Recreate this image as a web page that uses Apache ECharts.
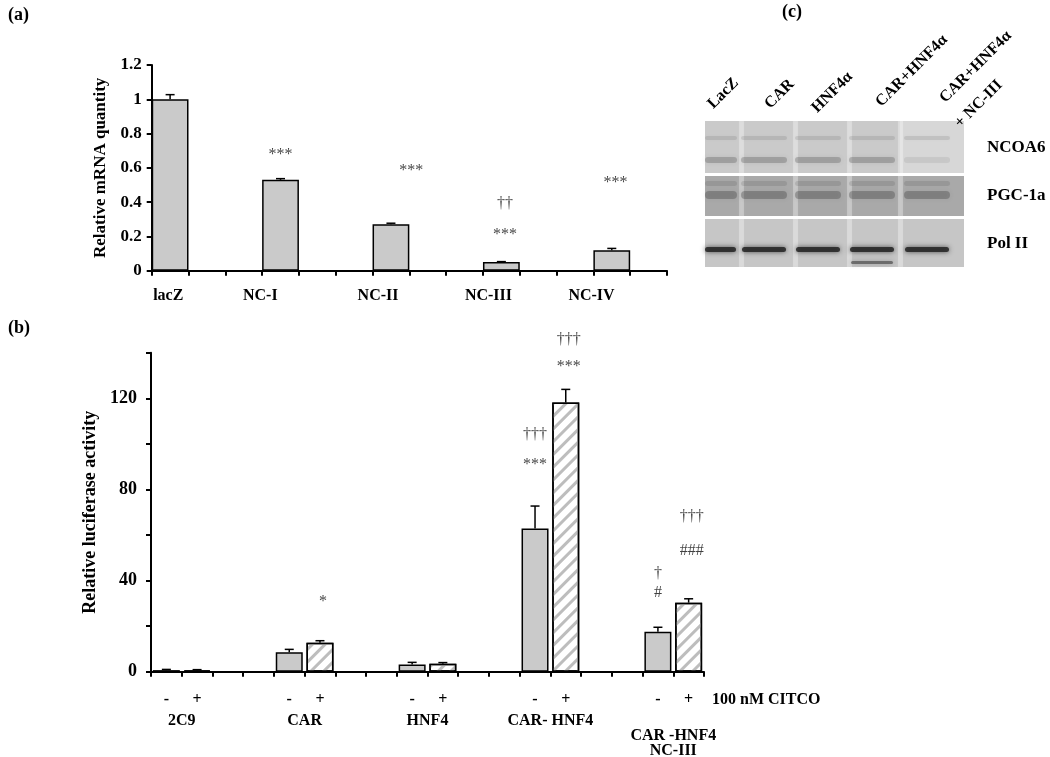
<!DOCTYPE html>
<html>
<head>
<meta charset="utf-8">
<script src="https://cdn.jsdelivr.net/npm/echarts@6/dist/echarts.min.js"></script>
<style>
  html, body { margin: 0; padding: 0; background: #fff; }
  #main { width: 1050px; height: 757px; }
</style>
</head>
<body>
<div id="main"></div>
<script>
// ---- panel (a) data ----
var aGenes = ['lacZ', 'NC-I', 'NC-II', 'NC-III', 'NC-IV'];
var aValues = [1.0, 0.53, 0.271, 0.051, 0.12];
var aErr = [0.027, 0.007, 0.006, 0.002, 0.01];
var aTicks = [0, 0.2, 0.4, 0.6, 0.8, 1, 1.2];
// where the gene names sit along the axis (slot units)
var aLabelAt = [0.45, 2.95, 6.15, 9.15, 11.95];
// significance marks (a): text, slot position, height
var aMarkText = ['***', '***', '***', '\u2020\u2020', '***'];
var aMarkX = [3.5, 7.05, 9.6, 9.6, 12.6];
var aMarkY = [0.677, 0.58, 0.21, 0.39, 0.51];

// ---- panel (b) data ----
var bGroups = ['2C9', 'CAR', 'HNF4', 'CAR- HNF4', '\nCAR -HNF4\nNC-III'];
var bMinus = [0.7, 8.5, 3.2, 62.9, 17.5];
var bMinusErr = [0.3, 1.3, 0.9, 9.8, 2.0];
var bPlus = [0.6, 12.7, 3.5, 118.1, 30.3];
var bPlusErr = [0.3, 0.9, 0.5, 5.8, 1.7];
var bTicks = [0, 40, 80, 120];
var bMarkText = ['*', '***', '\u2020\u2020\u2020', '***', '\u2020\u2020\u2020', '#', '\u2020', '###', '\u2020\u2020\u2020'];
var bMarkX = [5.6, 12.5, 12.5, 13.6, 13.6, 16.5, 16.5, 17.6, 17.6];
var bMarkY = [30.8, 90.7, 103.8, 133.8, 145.5, 34.5, 43, 53, 68];

var serif = 'Liberation Serif, Times New Roman, serif';

// build category slots: (a) gene + 2 blanks, (b) - + blank blank
var aCats = [];
aGenes.forEach(function(g, i) {
  aCats.push(g);
  aCats.push('_' + i + 'a');
  if (i < aGenes.length - 1) aCats.push('_' + i + 'b');
});
var aBarData = aCats.map(function() { return null; });
var aErrData = [];
aGenes.forEach(function(g, i) {
  aBarData[i * 3] = aValues[i];
  aErrData.push([i * 3, aValues[i], aValues[i] + aErr[i]]);
});

var bCats = [], bMinusData = [], bPlusData = [], bErrData = [];
bGroups.forEach(function(g, i) {
  bCats.push('-' + i, '+' + i);
  bMinusData.push(bMinus[i], null);
  bPlusData.push(null, bPlus[i]);
  bErrData.push([i * 4, bMinus[i], bMinus[i] + bMinusErr[i]]);
  bErrData.push([i * 4 + 1, bPlus[i], bPlus[i] + bPlusErr[i]]);
  if (i < bGroups.length - 1) {
    bCats.push('_' + i + 'a', '_' + i + 'b');
    bMinusData.push(null, null);
    bPlusData.push(null, null);
  }
});

function errRender(params, api) {
  var x = api.value(0);
  var b = api.coord([x, api.value(1)]);
  var t = api.coord([x, api.value(2)]);
  var st = { stroke: '#000', lineWidth: 1.5 };
  return {
    type: 'group',
    children: [
      { type: 'line', shape: { x1: b[0], y1: b[1], x2: t[0], y2: t[1] }, style: st },
      { type: 'line', shape: { x1: t[0] - 4.5, y1: t[1], x2: t[0] + 4.5, y2: t[1] }, style: st }
    ]
  };
}

function marks(texts, xs, ys) {
  return texts.map(function(t, i) { return { name: t, value: [xs[i], ys[i]] }; });
}

var axisLine = { lineStyle: { color: '#000', width: 2 } };
var axisTick = { show: true, length: 5, inside: false, lineStyle: { color: '#000', width: 2 } };

// ---- western blot (c) decoration ----
var laneCx = [714, 764, 818, 872, 927];
var blot = [];
[[121, 52, '#cacaca'], [176, 40, '#a9a9a9'], [219, 48, '#c6c6c6']].forEach(function(s) {
  blot.push({ type: 'rect', shape: { x: 705, y: s[0], width: 259, height: s[1] }, style: { fill: s[2] } });
});
blot.push({ type: 'rect', shape: { x: 900, y: 121, width: 64, height: 52 }, style: { fill: 'rgba(255,255,255,0.25)' } });
[739, 793, 847, 898].forEach(function(x) {
  [[121, 52], [176, 40], [219, 48]].forEach(function(s) {
    blot.push({ type: 'rect', shape: { x: x, y: s[0], width: 5, height: s[1] },
      style: { fill: 'rgba(255,255,255,0.3)', shadowBlur: 3, shadowColor: 'rgba(255,255,255,0.3)' } });
  });
});
function band(cx, y, h, col, w) {
  var x0 = Math.max(705, cx - (w || 23));
  var x1 = cx + (w || 23);
  blot.push({ type: 'rect', shape: { x: x0, y: y, width: x1 - x0, height: h, r: h / 2 },
    style: { fill: col, shadowBlur: 5, shadowColor: col } });
}
laneCx.forEach(function(cx, i) {
  band(cx, 136, 4, 'rgba(80,80,80,0.15)');
  band(cx, 157, 6, i === 4 ? 'rgba(80,80,80,0.10)' : 'rgba(80,80,80,0.30)');
  band(cx, 181, 5, 'rgba(60,60,60,0.14)');
  band(cx, 191, 8, 'rgba(50,50,50,0.30)');
  band(cx, 247, 5, 'rgba(35,35,35,0.85)', 22);
});
band(872, 261, 3, 'rgba(50,50,50,0.55)', 21);
var laneText = ['LacZ', 'CAR', 'HNF4\u03b1', 'CAR+HNF4\u03b1', 'CAR+HNF4\u03b1', '+ NC-III'];
var laneXY = [[716, 112], [773, 112], [820, 116], [884, 110], [948, 106], [963, 131]];
laneText.forEach(function(t, i) {
  blot.push({ type: 'text', x: laneXY[i][0], y: laneXY[i][1], rotation: Math.PI / 4,
    style: { text: t, align: 'left', verticalAlign: 'bottom', font: 'bold 16px ' + serif, fill: '#000' } });
});
[['NCOA6', 148], ['PGC-1a', 196], ['Pol II', 244]].forEach(function(l) {
  blot.push({ type: 'text', x: 987, y: l[1], style: { text: l[0], verticalAlign: 'middle', font: 'bold 17px ' + serif, fill: '#000' } });
});

var panelText = [['(a)', 8, 15], ['(b)', 8, 328], ['(c)', 782, 12]].map(function(p) {
  return { type: 'text', x: p[1], y: p[2], style: { text: p[0], verticalAlign: 'middle', font: 'bold 18px ' + serif, fill: '#000' } };
});
panelText.push({ type: 'text', x: 712, y: 700, style: { text: '100 nM CITCO', verticalAlign: 'middle', font: 'bold 16px ' + serif, fill: '#000' } });

var myChart = echarts.init(document.getElementById('main'));

var option = {
  animation: false,
  backgroundColor: '#fff',
  textStyle: { fontFamily: serif },
  grid: [
    { left: 151.7, right: 383, top: 65, bottom: 486.3, containLabel: false, outerBoundsMode: 'none' },
    { left: 151, right: 346, top: 352.7, bottom: 85.3, containLabel: false, outerBoundsMode: 'none' }
  ],
  xAxis: [
    {
      type: 'category', gridIndex: 0, data: aCats,
      axisLine: axisLine, axisTick: Object.assign({ interval: 0 }, axisTick),
      axisLabel: { show: false }
    },
    {
      type: 'value', gridIndex: 0, min: 0, max: aCats.length, position: 'bottom',
      axisLine: { show: false }, axisTick: { show: false }, splitLine: { show: false },
      axisLabel: {
        customValues: aLabelAt, margin: 17, color: '#000', fontWeight: 'bold', fontSize: 16, fontFamily: serif,
        formatter: function(v) { return aGenes[aLabelAt.indexOf(v)]; }
      }
    },
    {
      type: 'category', gridIndex: 1, data: bCats,
      axisLine: axisLine, axisTick: Object.assign({ interval: 0 }, axisTick),
      axisLabel: {
        interval: 0, margin: 20, color: '#000', fontWeight: 'bold', fontSize: 16, fontFamily: serif,
        formatter: function(v) { return v.charAt(0) === '_' ? '' : v.charAt(0); }
      }
    },
    {
      type: 'value', gridIndex: 1, min: 0, max: bCats.length, position: 'bottom',
      axisLine: { show: false }, axisTick: { show: false }, splitLine: { show: false },
      axisLabel: {
        customValues: bGroups.map(function(g, i) { return i * 4 + 1; }),
        margin: 42, color: '#000', fontWeight: 'bold', fontSize: 16, fontFamily: serif, lineHeight: 15,
        formatter: function(v) { return bGroups[Math.round((v - 1) / 4)]; }
      }
    }
  ],
  yAxis: [
    {
      type: 'value', gridIndex: 0, min: aTicks[0], max: aTicks[aTicks.length - 1], interval: 0.2,
      name: 'Relative mRNA quantity', nameLocation: 'middle', nameGap: 43,
      nameTextStyle: { color: '#000', fontWeight: 'bold', fontSize: 17, fontFamily: serif },
      axisLine: Object.assign({ show: true }, axisLine), axisTick: axisTick, splitLine: { show: false },
      axisLabel: { margin: 10, color: '#000', fontWeight: 'bold', fontSize: 17, fontFamily: serif }
    },
    {
      type: 'value', gridIndex: 1, min: 0, max: 140, interval: 20,
      name: 'Relative luciferase activity', nameLocation: 'middle', nameGap: 42,
      nameTextStyle: { color: '#000', fontWeight: 'bold', fontSize: 18, fontFamily: serif },
      axisLine: Object.assign({ show: true }, axisLine), axisTick: axisTick, splitLine: { show: false },
      axisLabel: {
        margin: 14, color: '#000', fontWeight: 'bold', fontSize: 18, fontFamily: serif,
        formatter: function(v) { return bTicks.indexOf(v) >= 0 ? v : ''; }
      }
    }
  ],
  series: [
    {
      type: 'bar', xAxisIndex: 0, yAxisIndex: 0, data: aBarData, barWidth: '100%',
      itemStyle: { color: '#cacaca', borderColor: '#000', borderWidth: 1.5 }
    },
    { type: 'custom', xAxisIndex: 0, yAxisIndex: 0, data: aErrData, renderItem: errRender, z: 5 },
    {
      type: 'scatter', xAxisIndex: 1, yAxisIndex: 0, symbolSize: 1, clip: false,
      itemStyle: { color: 'rgba(0,0,0,0)' },
      label: { show: true, position: 'inside', formatter: '{b}', color: '#111', fontSize: 16, fontFamily: serif },
      data: marks(aMarkText, aMarkX, aMarkY)
    },
    {
      type: 'bar', xAxisIndex: 2, yAxisIndex: 1, data: bMinusData, barWidth: 27, barGap: '-100%',
      itemStyle: { color: '#cacaca', borderColor: '#000', borderWidth: 1.5 }
    },
    {
      type: 'bar', xAxisIndex: 2, yAxisIndex: 1, data: bPlusData, barWidth: 27, barGap: '-100%',
      itemStyle: {
        color: '#fff', borderColor: '#000', borderWidth: 1.5,
        decal: { symbol: 'rect', symbolSize: 1, dashArrayX: [1, 0], dashArrayY: [3, 6], rotation: -Math.PI / 4, color: '#bdbdbd' }
      }
    },
    { type: 'custom', xAxisIndex: 2, yAxisIndex: 1, data: bErrData, renderItem: errRender, z: 5 },
    {
      type: 'scatter', xAxisIndex: 3, yAxisIndex: 1, symbolSize: 1, clip: false,
      itemStyle: { color: 'rgba(0,0,0,0)' },
      label: { show: true, position: 'inside', formatter: '{b}', color: '#111', fontSize: 16, fontFamily: serif },
      data: marks(bMarkText, bMarkX, bMarkY)
    }
  ],
  graphic: blot.concat(panelText)
};

myChart.setOption(option);
</script>
</body>
</html>
